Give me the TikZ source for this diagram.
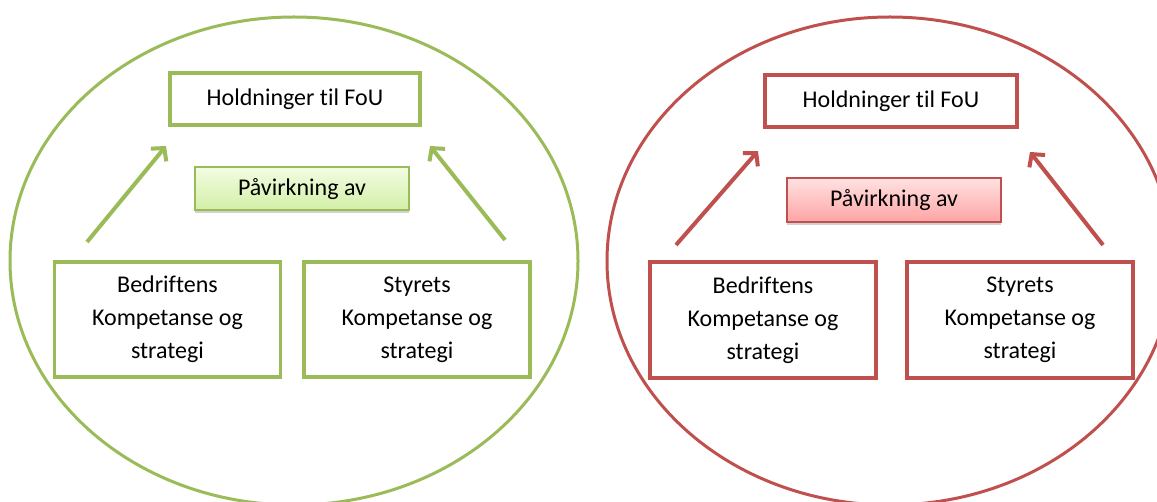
\documentclass[tikz,border=0pt]{standalone}
\usepackage{fontspec}
\setmainfont{Carlito}[Ligatures=NoCommon]
\usetikzlibrary{arrows.meta,shadows}
\definecolor{grn}{HTML}{9BBB59}
\definecolor{rd}{HTML}{C0504D}
\definecolor{gtop}{HTML}{F2FCE2}
\definecolor{gbot}{HTML}{D2EFA6}
\definecolor{rtop}{HTML}{FFE2E2}
\definecolor{rbot}{HTML}{FFA4A4}
\begin{document}
\begin{tikzpicture}[x=1pt,y=-1pt,
  font=\fontsize{24}{33}\selectfont,
  box/.style={draw, line width=3.5pt, fill=white, align=center, inner sep=0pt},
  gbox/.style={box, draw=grn},
  rbox/.style={box, draw=rd},
  shad/.style={drop shadow={shadow xshift=0pt, shadow yshift=-3pt, opacity=0.18, fill=black}},
  gfill/.style={shad, draw=grn, line width=2pt, top color=gtop, bottom color=gbot, inner sep=0pt},
  rfill/.style={shad, draw=rd, line width=2pt, top color=rtop, bottom color=rbot, inner sep=0pt},
  arr/.style={line width=4pt, -{Straight Barb[length=9pt,width=20pt,line width=4pt]}},
]
\useasboundingbox (0,0) rectangle (1157,502);
\clip (0,0) rectangle (1157,502);
\fill[white] (0,0) rectangle (1157,502);
% ellipses
\draw[grn, line width=3pt] (294,261) ellipse [x radius=284, y radius=244];
\draw[rd, line width=3pt] (890,261) ellipse [x radius=283, y radius=244];
% green
\node[gbox, minimum width=250, minimum height=52] (gh) at (295,99) {Holdninger til FoU};
\node[gfill, minimum width=214, minimum height=43] (gp) at (302,189) {Påvirkning av};
\node[gbox, minimum width=226, minimum height=115] (gb) at (167.5,319.5) {Bedriftens\\Kompetanse og\\strategi};
\node[gbox, minimum width=226, minimum height=115] (gs) at (417,319.5) {Styrets\\Kompetanse og\\strategi};
\coordinate (gla) at (87,242);
\coordinate (glb) at (166,146);
\coordinate (gra) at (505,240);
\coordinate (grb) at (430,146);
\draw[arr, grn] (gla) -- (glb);
\draw[arr, grn] (gra) -- (grb);
% red
\node[rbox, minimum width=252, minimum height=52] (rh) at (891,101) {Holdninger til FoU};
\node[rfill, minimum width=214, minimum height=44] (rp) at (894,200) {Påvirkning av};
\node[rbox, minimum width=226, minimum height=116] (rb) at (763,320) {Bedriftens\\Kompetanse og\\strategi};
\node[rbox, minimum width=226, minimum height=116] (rs) at (1020,320) {Styrets\\Kompetanse og\\strategi};
\coordinate (rla) at (676,245);
\coordinate (rlb) at (758,151);
\coordinate (rra) at (1103,245);
\coordinate (rrb) at (1030,152);
\draw[arr, rd] (rla) -- (rlb);
\draw[arr, rd] (rra) -- (rrb);
\end{tikzpicture}
\end{document}
